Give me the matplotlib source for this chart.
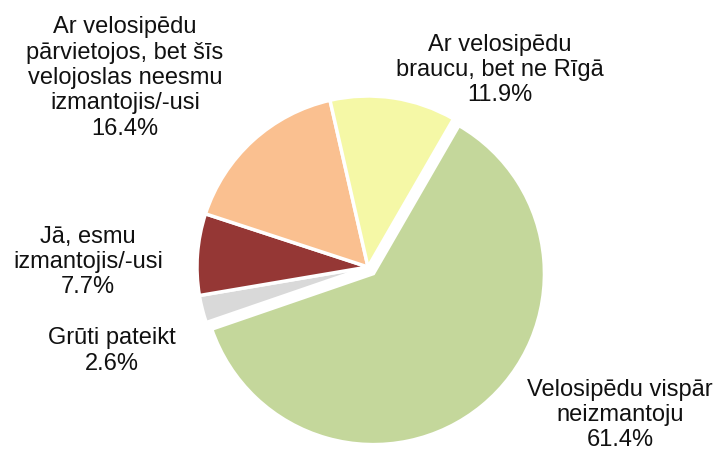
import matplotlib
matplotlib.use("Agg")
import matplotlib.pyplot as plt

labels = [
    "Velosipēdu vispār\nneizmantoju",
    "Grūti pateikt",
    "Jā, esmu\nizmantojis/-usi",
    "Ar velosipēdu\npārvietojos, bet šīs\nvelojoslas neesmu\nizmantojis/-usi",
    "Ar velosipēdu\nbraucu, bet ne Rīgā",
]
shares = [61.4, 2.6, 7.7, 16.4, 11.9]
colors = ["#C4D79B", "#D9D9D9", "#953735", "#FAC090", "#F5F8A6"]
explode = [0.05, 0, 0, 0, 0]

# label centres in pixels (x, y from top)
label_px = [(620, 415), (112, 351), (88, 262), (125, 78), (500, 70)]

W, H = 717, 452
CX, CY, R = 368, 268, 171

plt.rcParams["font.family"] = ["Liberation Sans", "DejaVu Sans"]
fig = plt.figure(figsize=(W / 100, H / 100), dpi=100)
ax = fig.add_axes([0, 0, 1, 1])
ax.pie(shares, colors=colors, explode=explode, startangle=60, counterclock=False,
       radius=1, wedgeprops=dict(edgecolor="white", linewidth=2.5))
ax.set_xlim(-CX / R, (W - CX) / R)
ax.set_ylim(-(H - CY) / R, CY / R)
ax.set_aspect("equal")
ax.axis("off")

for lab, val, (px, py) in zip(labels, shares, label_px):
    ax.text((px - CX) / R, (CY - py) / R, f"{lab}\n{val:.1f}%", ha="center", va="center",
            multialignment="center", fontsize=17, linespacing=1.2, color="#111111")

fig.savefig("out.png", dpi=100)
